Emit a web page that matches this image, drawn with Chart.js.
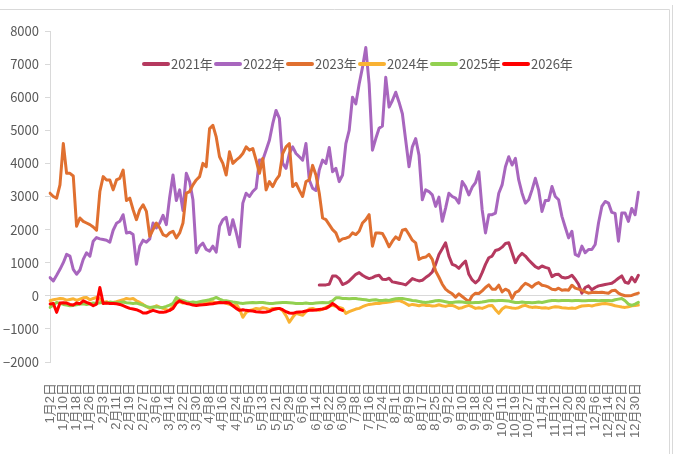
<!DOCTYPE html>
<html>
<head>
<meta charset="utf-8">
<script src="https://cdn.jsdelivr.net/npm/chart.js@4.4.1/dist/chart.umd.min.js"></script>
<style>
  html, body { margin: 0; padding: 0; background: #fff; }
  #wrap { position: relative; width: 675px; height: 454px; }
  #legend {
    position: absolute; top: 54px; left: 142px; white-space: nowrap;
    font: 13px 'Liberation Sans Narrow', 'Noto Sans CJK SC', sans-serif; color: #595959;
  }
  #legend .item { display: inline-block; width: 72px; height: 18px; line-height: 18px; }
  #legend .sw { display: inline-block; width: 28px; height: 4px; border-radius: 2px; vertical-align: middle; margin-right: 1px; position: relative; top: -1px; }
</style>
</head>
<body>
<div id="wrap">
  <canvas id="chart" width="675" height="454"></canvas>
  <div id="legend"></div>
</div>
<script>
// tick labels shown on the x axis (one every 4 data slots)
const tickLabels = [
  '1月2日', '1月10日', '1月18日', '1月26日', '2月3日', '2月11日', '2月19日', '2月27日',
  '3月6日', '3月14日', '3月22日', '3月30日', '4月8日', '4月16日', '4月24日', '5月5日',
  '5月13日', '5月21日', '5月29日', '6月6日', '6月14日', '6月22日', '6月30日', '7月8日',
  '7月16日', '7月24日', '8月1日', '8月9日', '8月17日', '8月25日', '9月2日', '9月10日',
  '9月18日', '9月26日', '10月11日', '10月19日', '10月27日', '11月4日', '11月12日', '11月20日',
  '11月28日', '12月6日', '12月14日', '12月22日', '12月30日'
];

const seriesNames = ['2021年', '2022年', '2023年', '2024年', '2025年', '2026年'];
const seriesColors = ['#B5395F', '#A866BE', '#E07030', '#F9B233', '#92D050', '#FF0000'];

const v2021 = Array(81).fill(null).concat([
  330, 330, 330, 350, 600, 600, 520, 340, 380,
  450, 550, 650, 700, 620, 560, 520, 550, 600, 620,
  500, 490, 530, 420, 400, 380, 360, 330, 420, 520,
  480, 450, 470, 550, 620, 720, 950, 1250, 1420, 1600,
  1200, 950, 910, 830, 950, 1050, 650, 480, 390, 480,
  700, 950, 1150, 1200, 1370, 1400, 1470, 1580, 1600, 1300,
  1000, 1180, 1280, 1200, 1080, 980, 880, 830, 900, 860,
  830, 580, 640, 650, 560, 540, 560, 620, 500, 350,
  80, 250, 300, 180, 250, 300, 320, 340, 360, 380,
  450, 530, 600, 410, 380, 560, 420, 620
]);

const v2022 = [
  550, 450, 620, 800, 1000, 1250, 1200, 800, 650, 780,
  1100, 1300, 1200, 1650, 1760, 1720, 1700, 1680, 1620, 1980,
  2190, 2250, 2450, 1900, 1920, 1850, 950, 1500, 1680, 1620,
  1720, 2200, 2050, 2200, 2430, 2150, 2980, 3650, 2880, 3200,
  2580, 3700, 3450, 2900, 1300, 1500, 1590, 1400, 1350, 1500,
  1320, 2100, 2300, 2370, 1850, 2300, 1920, 1480, 2800, 3100,
  3000, 3150, 3250, 4100, 4100, 4400, 4700, 5200, 5600, 5360,
  4000, 3850, 4300, 4500, 4300, 4200, 4100, 4600, 3500, 3250,
  3180, 3800, 4100, 4000, 4480, 3750, 3850, 3450, 3650, 4600,
  5000, 6000, 5800, 6400, 6900, 7500, 6400, 4400, 4750, 5060,
  5130, 6600, 5700, 5900, 6150, 5850, 5500, 4700, 3900, 4500,
  4750, 4250, 2900, 3200, 3150, 3050, 2700, 2980, 2250, 2650,
  3100, 3000, 2950, 2800, 3450, 3300, 3050, 3280, 3420, 3750,
  2600, 1900, 2450, 2450, 2500, 3100, 3350, 3900, 4200, 3950,
  4150, 3500, 3100, 2800, 2900, 3200, 3550, 3190, 2550, 2880,
  2880, 3300, 3000, 2900, 2400, 2070, 1750, 1950, 1250, 1200,
  1500, 1300, 1400, 1400, 1550, 2200, 2700, 2850, 2800, 2520,
  2490, 1650, 2500, 2500, 2250, 2640, 2450, 3130
];

const v2023 = [
  3100, 3000, 2950, 3350, 4600, 3700, 3700, 3620, 2100, 2350,
  2250, 2200, 2150, 2080, 1980, 3150, 3600, 3500, 3500, 3200,
  3500, 3550, 3800, 2880, 2950, 2600, 2300, 2600, 2750, 2550,
  1800, 2000, 2200, 2050, 1850, 1800, 1900, 1950, 1750, 1900,
  2200, 3100, 3150, 3350, 3500, 3600, 4000, 3900, 5050, 5150,
  4800, 4200, 4000, 3650, 4350, 4000, 4100, 4180, 4300, 4500,
  4400, 4450, 4100, 3700, 4150, 3200, 3450, 3300, 3500, 3640,
  4300, 4500, 4600, 3300, 3400, 3190, 3000, 3450, 3500, 3940,
  3650, 3100, 2350, 2300, 2150, 2000, 1900, 1650, 1720, 1740,
  1780, 1900, 1850, 1950, 2200, 2300, 2450, 1500, 1900, 1900,
  1880, 1700, 1480, 1650, 1780, 1700, 1980, 2010, 1850, 1680,
  1600, 1100, 1150, 1170, 1250, 1100, 750, 560, 350, 200,
  120, 60, -40, 60, -20, -100, -180, 0, 80, 70,
  150, 250, 330, 200, 200, 320, 120, 200, 150, -80,
  100, 150, 280, 380, 330, 260, 350, 400, 320, 300,
  260, 200, 180, 230, 170, 180, 170, 320, 230, 200,
  170, 120, 80, 100, 110, 100, 110, 90, 80, 150,
  170, 80, 30, 0, 0, 10, 50, 80
];

const v2024 = [
  -150, -120, -100, -80, -90, -130, -110, -90, -140, -100,
  -60, -50, -120, -80, -50, -100, -200, -180, -220, -200,
  -180, -150, -120, -80, -100, -80, -150, -200, -260, -330,
  -380, -350, -300, -340, -380, -420, -440, -300, -140, -180,
  -220, -200, -210, -240, -230, -200, -180, -220, -200, -180,
  -220, -200, -190, -230, -260, -300, -250, -400, -650, -500,
  -440, -420, -380, -400, -360, -380, -420, -380, -400, -380,
  -450, -600, -800, -650, -530, -560, -590, -480, -400, -380,
  -420, -440, -400, -350, -300, -290, -320, -350, -380, -530,
  -480, -440, -400, -380, -330, -290, -260, -250, -230, -230,
  -210, -200, -190, -170, -150, -140, -180, -230, -290, -260,
  -280, -300, -270, -290, -290, -310, -300, -270, -300, -320,
  -290, -290, -330, -380, -360, -320, -290, -330, -380, -360,
  -380, -340, -300, -290, -420, -530, -400, -330, -350, -370,
  -380, -360, -310, -290, -330, -350, -340, -350, -370, -360,
  -380, -350, -330, -340, -360, -370, -380, -370, -380, -340,
  -310, -300, -290, -310, -280, -260, -240, -230, -250, -270,
  -300, -320, -340, -350, -330, -300, -290, -280
];

const v2025 = [
  -350, -280, -200, -230, -260, -280, -300, -290, -270, -250,
  -240, -260, -240, -220, -230, -210, -200, -220, -190, -200,
  -210, -200, -190, -210, -220, -230, -220, -250, -280, -320,
  -350, -340, -330, -350, -350, -320, -280, -230, -50, -120,
  -140, -180, -200, -190, -200, -180, -160, -140, -120, -90,
  -50, -100, -140, -150, -170, -190, -200, -220, -230, -220,
  -210, -200, -210, -200, -200, -220, -230, -230, -220, -210,
  -200, -200, -210, -220, -230, -230, -230, -220, -230, -230,
  -220, -210, -200, -210, -200, -150, -60, -60, -80, -80,
  -90, -80, -80, -100, -110, -120, -140, -130, -120, -140,
  -140, -130, -140, -110, -90, -80, -80, -100, -120, -140,
  -150, -170, -190, -200, -190, -170, -150, -140, -160, -180,
  -200, -200, -190, -180, -190, -200, -200, -210, -200, -200,
  -190, -170, -150, -140, -150, -140, -140, -150, -160, -180,
  -200, -200, -190, -200, -200, -210, -200, -190, -200, -180,
  -160, -140, -140, -150, -140, -140, -140, -150, -140, -140,
  -150, -150, -140, -140, -140, -150, -140, -140, -140, -150,
  -120, -100, -80, -150, -250, -290, -250, -200
];

const v2026 = [
  -250, -230, -500, -220, -210, -220, -260, -280, -220, -240,
  -150, -200, -240, -300, -250, 250, -230, -220, -230, -230,
  -240, -260, -300, -340, -380, -400, -420, -460, -520, -520,
  -480, -440, -470, -500, -500, -480, -440, -380, -230, -150,
  -200, -230, -250, -280, -290, -280, -270, -260, -250, -240,
  -220, -200, -210, -200, -220, -300, -380, -440, -420, -440,
  -450, -460, -480, -490, -500, -490, -470, -420, -390, -380,
  -420, -480, -520, -530, -500, -490, -480, -460, -440, -440,
  -430, -410, -400, -380, -320, -230, -300, -400, -440
];

const yMin = -2000, yMax = 8000, yStep = 1000;

// 4 data slots per tick label, the last label is followed by one more slot
const categories = [];
tickLabels.forEach(t => categories.push(t, '', '', ''));
categories.length = 178;

const allValues = [v2021, v2022, v2023, v2024, v2025, v2026];
const narrow = "'Liberation Sans Narrow', 'Noto Sans CJK SC', sans-serif";

// light grey frame around the chart, like the original sheet
const framePlugin = {
  id: 'frame',
  beforeDraw(chart) {
    const c = chart.ctx;
    c.save();
    c.strokeStyle = '#d9d9d9';
    c.lineWidth = 1;
    c.beginPath();
    c.moveTo(0, 9.5); c.lineTo(669.5, 9.5); c.lineTo(669.5, 454);
    c.moveTo(672.5, 5); c.lineTo(672.5, 454);
    c.stroke();
    c.restore();
  }
};

new Chart(document.getElementById('chart'), {
  type: 'line',
  data: {
    labels: categories,
    datasets: allValues.map((vals, i) => ({
      label: seriesNames[i],
      data: vals,
      borderColor: seriesColors[i],
      backgroundColor: seriesColors[i],
      borderWidth: 3,
      pointRadius: 0,
      tension: 0,
      borderJoinStyle: 'round',
      borderCapStyle: 'round',
      order: 6 - i
    }))
  },
  options: {
    responsive: false,
    animation: false,
    layout: { padding: { top: 31, left: 1, right: 20, bottom: 0 } },
    plugins: { legend: { display: false }, tooltip: { enabled: false } },
    scales: {
      x: {
        grid: { display: false, drawTicks: false },
        border: { display: false },
        ticks: {
          autoSkip: false, minRotation: 90, maxRotation: 90, padding: 21,
          color: '#707070',
          font: { family: "'Liberation Sans', 'Noto Sans CJK SC', sans-serif", size: 13 },
          callback: (v, i) => categories[i]
        },
        afterFit: s => { s.height = 92; }
      },
      y: {
        min: yMin, max: yMax,
        ticks: {
          stepSize: yStep, padding: 6, color: '#595959',
          font: { family: narrow, size: 13 },
          callback: v => String(v).replace('-', '\u2212')
        },
        grid: {
          color: ctx => (ctx.tick && ctx.tick.value === 0) ? '#d9d9d9' : 'rgba(0,0,0,0)',
          tickColor: '#d9d9d9', tickLength: 5
        },
        border: { color: '#d9d9d9' },
        afterFit: s => { s.width = 49; }
      }
    }
  },
  plugins: [framePlugin]
});

// legend drawn over the plot, as in the original
const legend = document.getElementById('legend');
seriesNames.forEach((name, i) => {
  const item = document.createElement('span');
  item.className = 'item';
  item.innerHTML = '<span class="sw" style="background:' + seriesColors[i] + '"></span>' + name;
  legend.appendChild(item);
});
</script>
</body>
</html>
